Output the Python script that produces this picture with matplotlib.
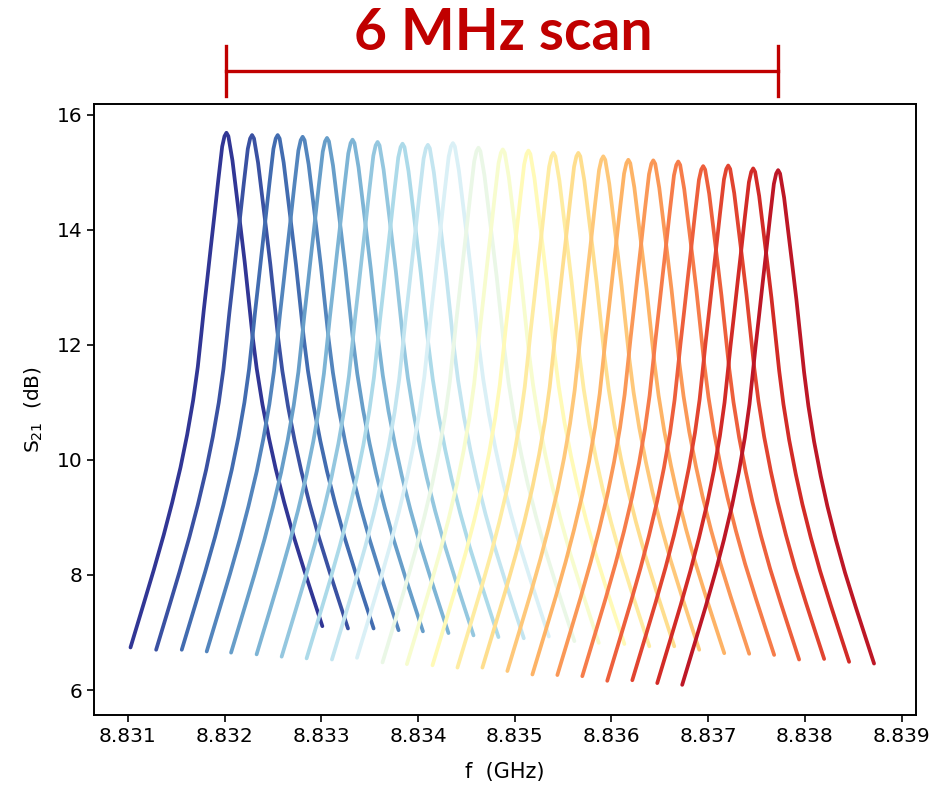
import matplotlib
matplotlib.use("Agg")

import numpy as np
import matplotlib.pyplot as plt
import matplotlib.transforms as mtransforms
from matplotlib.ticker import FormatStrFormatter

# ---------------------------
# DATA
# ---------------------------

# resonance centres (GHz) and peak transmission (dB) for each step of the scan
CENTERS_GHZ = [8.832019, 8.832284, 8.832549, 8.832807, 8.833059, 8.833323,
               8.833582, 8.833840, 8.834102, 8.834361, 8.834625, 8.834877,
               8.835142, 8.835400, 8.835658, 8.835916, 8.836175, 8.836433,
               8.836691, 8.836949, 8.837208, 8.837466, 8.837724]
PEAKS_DB = [15.69, 15.65, 15.65, 15.62, 15.60, 15.57, 15.53, 15.50, 15.48,
            15.51, 15.43, 15.40, 15.38, 15.34, 15.34, 15.28, 15.22, 15.21,
            15.19, 15.11, 15.12, 15.07, 15.04]

# line shape: distance from centre (MHz) and drop below peak (dB)
LEFT_OFFSET_MHZ = [0.000, 0.020, 0.044, 0.084, 0.122, 0.161, 0.199, 0.234,
                   0.260, 0.296, 0.344, 0.406, 0.475, 0.561, 0.648, 0.751,
                   0.854, 0.992]
LEFT_DROP_DB = [0.00, 0.06, 0.24, 0.82, 1.40, 1.98, 2.56, 3.08,
                3.50, 4.07, 4.65, 5.25, 5.82, 6.43, 6.99, 7.60,
                8.18, 8.95]
RIGHT_OFFSET_MHZ = [0.000, 0.020, 0.062, 0.106, 0.148, 0.189, 0.230, 0.269,
                    0.313, 0.372, 0.441, 0.509, 0.596, 0.692, 0.803, 0.899,
                    0.992]
RIGHT_DROP_DB = [0.00, 0.06, 0.48, 1.09, 1.67, 2.25, 2.90, 3.52,
                 4.10, 4.72, 5.32, 5.84, 6.42, 7.00, 7.60, 8.10,
                 8.58]

SCAN_LABEL = "6 MHz scan"
LABEL_RED = "#C00000"

# ---------------------------
# PLOT
# ---------------------------

fig = plt.figure(figsize=(9.33, 7.86), dpi=100)
ax = fig.add_axes([0.1008, 0.0903, 0.8810, 0.7774])

cmap = plt.cm.RdYlBu_r
n = len(CENTERS_GHZ)
colors = cmap(np.linspace(0, 0.95, n))

left_off = np.array(LEFT_OFFSET_MHZ)[::-1]
left_drop = np.array(LEFT_DROP_DB)[::-1]
right_off = np.array(RIGHT_OFFSET_MHZ)[1:]
right_drop = np.array(RIGHT_DROP_DB)[1:]
offsets = np.concatenate([-left_off, right_off]) * 1e-3
drops = np.concatenate([left_drop, right_drop])

for i, (fc, pk) in enumerate(zip(CENTERS_GHZ, PEAKS_DB)):
    ax.plot(fc + offsets, pk - drops, color=colors[i], lw=2.7,
            solid_capstyle="round", solid_joinstyle="round")

ax.set_xlim(8.83065, 8.83915)
ax.set_ylim(5.565, 16.19)
ax.set_xticks([8.831, 8.832, 8.833, 8.834, 8.835, 8.836, 8.837, 8.838, 8.839])
ax.set_yticks([6, 8, 10, 12, 14, 16])
ax.xaxis.set_major_formatter(FormatStrFormatter("%.3f"))
ax.tick_params(labelsize=14.5, width=1.2, length=5)
for sp in ax.spines.values():
    sp.set_linewidth(1.4)

ax.set_xlabel("f  (GHz)", fontsize=15, labelpad=12)
ax.set_ylabel("S$_{21}$  (dB)", fontsize=14.5, labelpad=8)

# bracket spanning the scanned range, drawn above the axes
trans = mtransforms.blended_transform_factory(ax.transData, fig.transFigure)
x0, x1 = CENTERS_GHZ[0], CENTERS_GHZ[-1]
ax.plot([x0, x1], [0.910, 0.910], color=LABEL_RED, lw=2.4,
        transform=trans, clip_on=False)
for xb in (x0, x1):
    ax.plot([xb, xb], [0.878, 0.942], color=LABEL_RED, lw=2.4,
            transform=trans, clip_on=False)

fig.text(0.5395, 0.958, SCAN_LABEL, color=LABEL_RED, fontsize=41,
         fontweight="bold", family="Lato", ha="center", va="center")

fig.savefig("out.png", dpi=100)
